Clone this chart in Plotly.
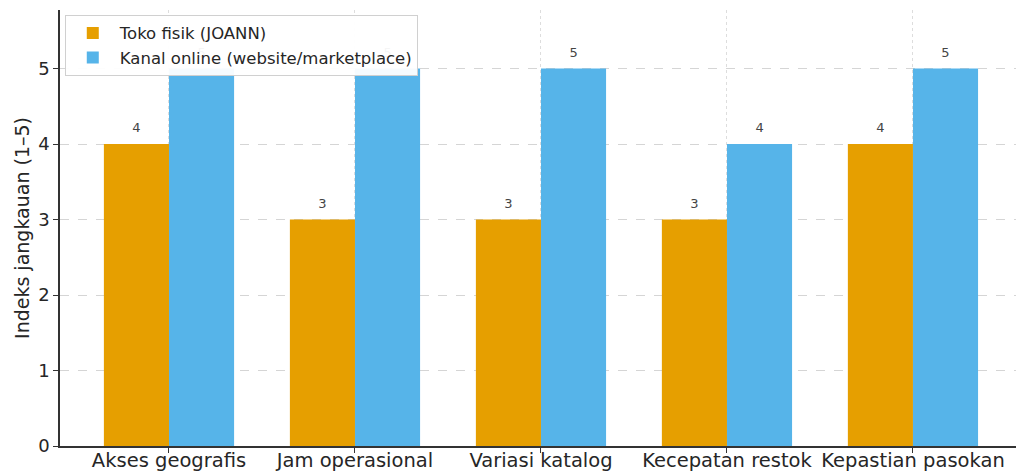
import plotly.graph_objects as go

categories = ["Akses geografis", "Jam operasional", "Variasi katalog", "Kecepatan restok", "Kepastian pasokan"]
toko_fisik = [4, 3, 3, 3, 4]
kanal_online = [5, 5, 5, 4, 5]
series_names = ["Toko fisik (JOANN)", "Kanal online (website/marketplace)"]
y_ticks = [0, 1, 2, 3, 4, 5]

ORANGE = "#E69F00"
BLUE = "#56B4E9"
FONT = "DejaVu Sans"
TXT = "#262626"

x = list(range(len(categories)))
w = 0.35

fig = go.Figure()
fig.add_trace(go.Bar(x=x, y=toko_fisik, name=series_names[0], marker_color=ORANGE,
                     width=w, offset=-w, marker_line_width=0, hoverinfo="skip"))
fig.add_trace(go.Bar(x=x, y=kanal_online, name=series_names[1], marker_color=BLUE,
                     width=w, offset=0, marker_line_width=0, hoverinfo="skip"))

# value labels as (transparent-marker) text traces so the legend box covers them, as in the reference
for vals, dx in ((toko_fisik, -w / 2), (kanal_online, w / 2)):
    fig.add_trace(go.Scatter(
        x=[i + dx for i in x], y=vals, mode="markers+text",
        text=[str(v) for v in vals], textposition="top center",
        marker=dict(size=12, opacity=0), showlegend=False, hoverinfo="skip",
        textfont=dict(family=FONT, size=13, color="#444444"), cliponaxis=False,
    ))

fig.update_layout(
    width=1016, height=472,
    margin=dict(l=60, r=0, t=10, b=26, autoexpand=False),
    plot_bgcolor="white", paper_bgcolor="white",
    barmode="overlay",
    font=dict(family=FONT, size=16, color=TXT),
    showlegend=True,
    legend=dict(x=0.005, y=0.989, xanchor="left", yanchor="top",
                bgcolor="rgba(255,255,255,0.95)", bordercolor="#d0d0d0", borderwidth=1,
                font=dict(family=FONT, size=16.5, color=TXT), itemwidth=44,
                tracegroupgap=2),
)
fig.update_xaxes(
    range=[-0.586, 4.554], tickmode="array", tickvals=x, ticktext=categories,
    showgrid=True, gridcolor="#dddddd", griddash="dot", gridwidth=1,
    showline=True, linecolor="#333333", linewidth=1.5,
    ticks="outside", ticklen=5, tickcolor="#333333", zeroline=False,
    tickfont=dict(family=FONT, size=19.5, color=TXT), automargin=False,
    ticklabelstandoff=-9,
)
fig.update_yaxes(
    range=[0, 5.775], tickmode="array", tickvals=y_ticks,
    showgrid=True, gridcolor="#d5d5d5", griddash="dash", gridwidth=1,
    showline=True, linecolor="#333333", linewidth=1.5,
    ticks="outside", ticklen=5, tickcolor="#333333", zeroline=False,
    tickfont=dict(family=FONT, size=18, color=TXT), automargin=False,
    title=dict(text="Indeks jangkauan (1–5)", font=dict(family=FONT, size=19, color=TXT), standoff=4),
)

fig.write_html("out.html")
